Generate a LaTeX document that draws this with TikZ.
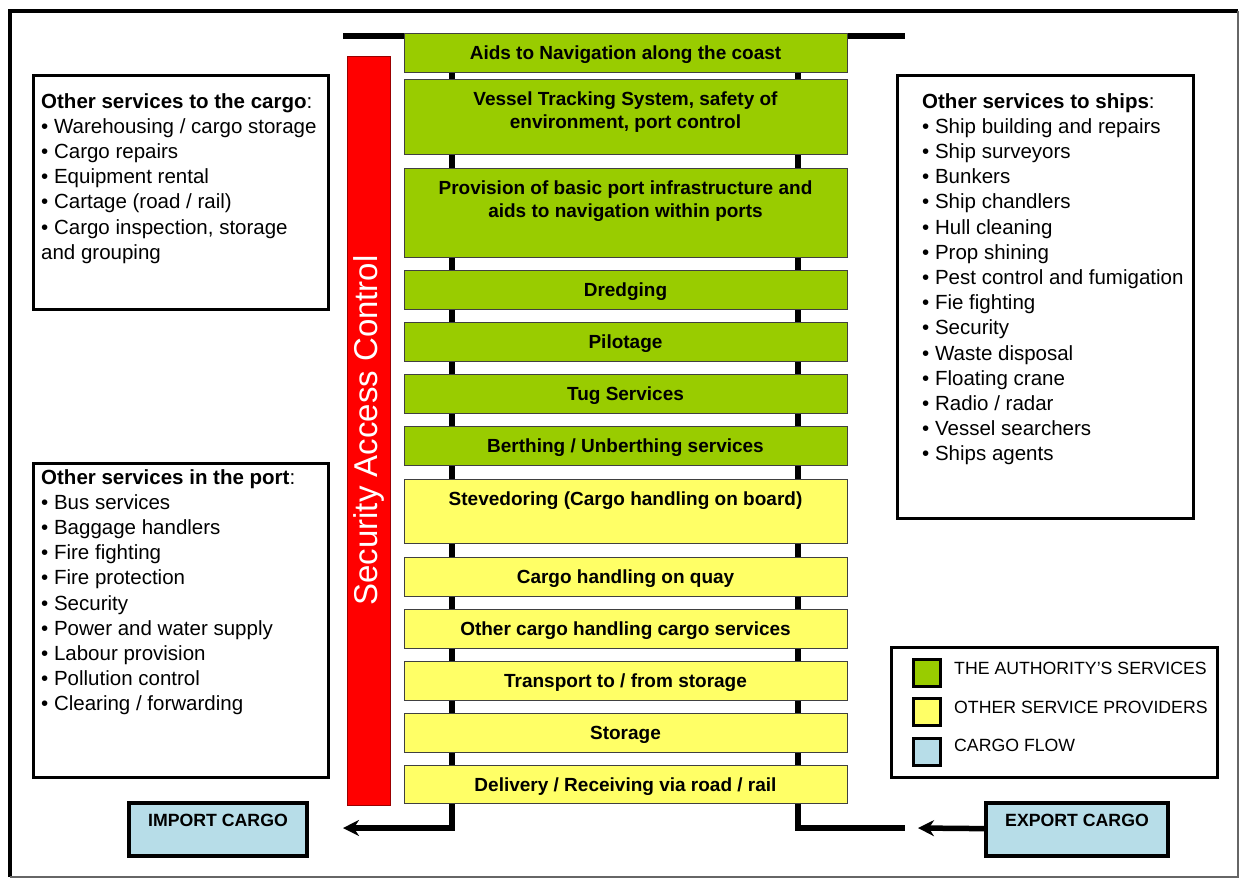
\documentclass[tikz,border=0pt]{standalone}
\usepackage{fontspec}
\setmainfont{Liberation Sans}
\usetikzlibrary{arrows.meta, positioning}

\begin{document}
\begin{tikzpicture}[
    x=1pt, y=-1pt,
    >={Stealth[length=16pt, width=16pt]},
    svcbox/.style={draw=black!75, line width=0.8pt, minimum width=443, inner sep=0},
    svctext/.style={anchor=north, inner sep=0, align=center, font=\bfseries\fontsize{19}{23}\selectfont},
    sidebox/.style={draw=black, line width=3pt, inner sep=0},
    sidetext/.style={anchor=north west, inner sep=0, align=left, font=\fontsize{20.5}{25.2}\selectfont},
    cargobox/.style={draw=black, line width=3.5pt, fill=cargoBlue, minimum width=178, minimum height=53, inner sep=0},
    cargotext/.style={anchor=north, inner sep=0, font=\bfseries\fontsize{17.7}{20}\selectfont},
    legsq/.style={draw=black, line width=3pt, minimum size=27, inner sep=0},
    legtext/.style={anchor=west, inner sep=0, font=\fontsize{17.7}{20}\selectfont},
    flow/.style={line width=5.5pt}
]

    % Colours
    \definecolor{authGreen}{HTML}{99CC00}
    \definecolor{otherYellow}{HTML}{FFFF66}
    \definecolor{secRed}{HTML}{FF0000}
    \definecolor{cargoBlue}{HTML}{B7DDE8}

    \useasboundingbox (0,0) rectangle (1241,879);

    % 1. Frame
    \draw[line width=4pt] (10,877) -- (10,11) -- (1238,11);
    \draw[line width=2pt, black!60] (1238,11) -- (1238,877) -- (10,877);

    % 2. Quay line and the two posts
    \coordinate (quayL) at (343,36);
    \coordinate (quayR) at (905,36);
    \coordinate (postLtop) at (452,36);
    \coordinate (postLbot) at (452,828);
    \coordinate (postRtop) at (798,36);
    \coordinate (postRbot) at (798,828);
    \coordinate (impEnd) at (343,828);
    \coordinate (expEnd) at (905,828);
    \coordinate (expTip) at (918,828);

    \draw[line width=6pt] (quayL) -- (quayR);
    \draw[flow, ->] (postLtop) -- (postLbot) -- (impEnd);
    \draw[flow] (postRtop) -- (postRbot) -- (expEnd);

    % 3. Services, top to bottom
    \foreach \nm/\ytop/\ybot/\col/\txt in {
        aids/33/72/authGreen/{Aids to Navigation along the coast},
        vts/79/154/authGreen/{Vessel Tracking System, safety of\\environment, port control},
        infra/168/257/authGreen/{Provision of basic port infrastructure and\\aids to navigation within ports},
        dredge/270/309/authGreen/{Dredging},
        pilot/322/361/authGreen/{Pilotage},
        tug/374/413/authGreen/{Tug Services},
        berth/426/465/authGreen/{Berthing / Unberthing services},
        steve/479/543/otherYellow/{Stevedoring (Cargo handling on board)},
        quay/557/596/otherYellow/{Cargo handling on quay},
        othcargo/609/648/otherYellow/{Other cargo handling cargo services},
        transp/661/700/otherYellow/{Transport to / from storage},
        store/713/752/otherYellow/{Storage},
        deliv/765/803/otherYellow/{Delivery / Receiving via road / rail}%
    }{
        \node[svcbox, fill=\col, minimum height={\ybot-\ytop}] (\nm) at (625.5, {(\ytop+\ybot)/2}) {};
        \node[svctext] (\nm-t) at ([yshift=-13pt]\nm.north) {\txt};
    }

    % 4. Security bar
    \node[draw=red!60!black, line width=0.8pt, fill=secRed, text=white, rotate=90,
          minimum width=749, minimum height=43, inner sep=0,
          font=\fontsize{33}{36}\selectfont] (security) at (368.5,430.5) {Security Access Control};

    % 5. Side boxes
    \node[sidebox, minimum width=295, minimum height=234] (cargoSvc) at (180.5,192) {};
    \node[sidetext] (cargoSvc-t) at (41,93) {\textbf{Other services to the cargo}:\\
        • Warehousing / cargo storage\\
        • Cargo repairs\\
        • Equipment rental\\
        • Cartage (road / rail)\\
        • Cargo inspection, storage\\
        and grouping};

    \node[sidebox, minimum width=295, minimum height=314] (portSvc) at (180.5,620) {};
    \node[sidetext] (portSvc-t) at (41,469) {\textbf{Other services in the port}:\\
        • Bus services\\
        • Baggage handlers\\
        • Fire fighting\\
        • Fire protection\\
        • Security\\
        • Power and water supply\\
        • Labour provision\\
        • Pollution control\\
        • Clearing / forwarding};

    \node[sidebox, minimum width=296, minimum height=443] (shipSvc) at (1045,296.5) {};
    \node[sidetext] (shipSvc-t) at (922,93) {\textbf{Other services to ships}:\\
        • Ship building and repairs\\
        • Ship surveyors\\
        • Bunkers\\
        • Ship chandlers\\
        • Hull cleaning\\
        • Prop shining\\
        • Pest control and fumigation\\
        • Fie fighting\\
        • Security\\
        • Waste disposal\\
        • Floating crane\\
        • Radio / radar\\
        • Vessel searchers\\
        • Ships agents};

    % 6. Legend
    \node[sidebox, minimum width=326, minimum height=130] (legend) at (1054,712) {};
    \node[legsq, fill=authGreen] (legAuth) at (927,673) {};
    \node[legsq, fill=otherYellow] (legOther) at (927,712) {};
    \node[legsq, fill=cargoBlue] (legCargo) at (927,751.5) {};
    \node[legtext] (legAuth-t) at (954,668.5) {THE AUTHORITY’S SERVICES};
    \node[legtext] (legOther-t) at (954,707) {OTHER SERVICE PROVIDERS};
    \node[legtext] (legCargo-t) at (954,745.5) {CARGO FLOW};

    % 7. Cargo in and out
    \node[cargobox] (import) at (218,829.5) {};
    \node[cargotext] (import-t) at ([yshift=-13pt]import.north) {IMPORT CARGO};
    \node[cargobox, minimum width=182] (export) at (1077,829.5) {};
    \node[cargotext] (export-t) at ([yshift=-13pt]export.north) {EXPORT CARGO};

    \draw[flow, ->] (export) -- (expTip);

\end{tikzpicture}
\end{document}
